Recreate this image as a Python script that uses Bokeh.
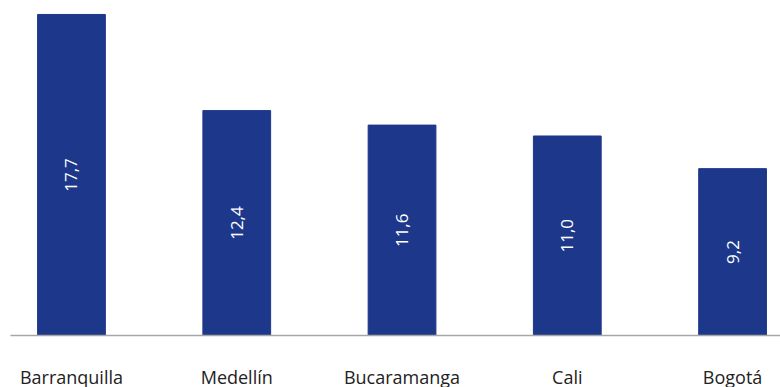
import math
from bokeh.plotting import figure
from bokeh.models import ColumnDataSource, Range1d, FixedTicker
from bokeh.core.properties import value
from bokeh.embed import file_html
from bokeh.resources import INLINE

# Ciudades y valores de la serie
cities = ["Barranquilla", "Medellín", "Bucaramanga", "Cali", "Bogotá"]
values = [17.7, 12.4, 11.6, 11.0, 9.2]
value_labels = ["17,7", "12,4", "11,6", "11,0", "9,2"]

BAR_COLOR = "#1d388a"
FONT = "Open Sans"

xs = list(range(len(cities)))
source = ColumnDataSource(dict(
    x=xs,
    top=values,
    mid=[v / 2 for v in values],
    label=value_labels,
))

p = figure(
    width=780, height=391,
    x_range=Range1d(-0.369, 4.29),
    y_range=Range1d(0, 18.47),
    output_backend="svg", toolbar_location=None,
    min_border_left=10, min_border_right=0,
    min_border_top=0, min_border_bottom=53,
)

p.vbar(x="x", top="top", bottom=0, width=0.41, color=BAR_COLOR, source=source)

p.text(x="x", y="mid", text="label", source=source,
       angle=math.pi / 2, text_align="center", text_baseline="middle",
       text_color="white", text_font=value(FONT), text_font_size="17px")

p.yaxis.visible = False
p.xgrid.visible = False
p.ygrid.visible = False
p.outline_line_color = None

ax = p.xaxis[0]
ax.ticker = FixedTicker(ticks=xs)
ax.major_label_overrides = {i: c for i, c in enumerate(cities)}
ax.major_tick_line_color = None
ax.major_tick_out = 0
ax.major_tick_in = 0
ax.minor_tick_line_color = None
ax.minor_tick_out = 0
ax.axis_label_standoff = 0
ax.axis_line_color = "#a6a6a6"
ax.axis_line_width = 1.5
ax.major_label_text_font = FONT
ax.major_label_text_font_size = "18px"
ax.major_label_text_color = "#222222"
ax.major_label_standoff = 29

open("out.html", "w").write(file_html(p, INLINE))
